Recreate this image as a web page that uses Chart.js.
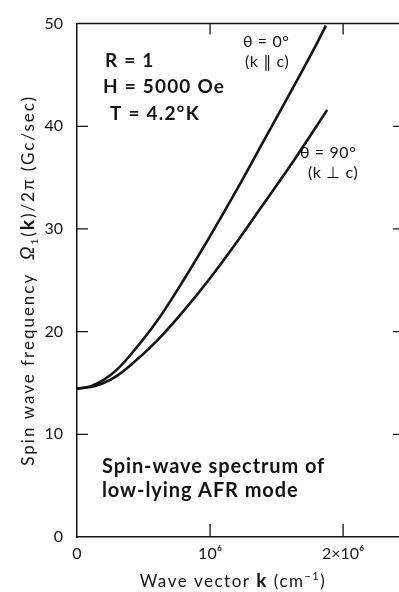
<!DOCTYPE html>
<html>
<head>
<meta charset="utf-8">
<script src="https://cdn.jsdelivr.net/npm/chart.js@4"></script>
<style>
  html, body { margin: 0; padding: 0; background: #fff; overflow: hidden; }
  #wrap { width: 410px; height: 592px; }
</style>
</head>
<body>
<div id="wrap"><canvas id="spin"></canvas></div>
<script>
// wave vector k in units of 10^6 cm^-1, frequency in Gc/sec
const kTheta0 = [0, 0.1, 0.2, 0.3, 0.4, 0.6, 0.8, 1.0, 1.2, 1.4, 1.6, 1.8, 1.87];
const freqTheta0 = [14.45, 14.67, 15.3, 16.3, 17.7, 21.0, 25.0, 29.3, 33.8, 38.5, 43.2, 48.0, 49.8];
const kTheta90 = [0, 0.1, 0.2, 0.3, 0.4, 0.6, 0.8, 1.0, 1.2, 1.4, 1.6, 1.8, 1.88];
const freqTheta90 = [14.45, 14.6, 15.0, 15.7, 16.7, 19.1, 22.0, 25.2, 28.7, 32.4, 36.1, 40.0, 41.6];

const xTicks = [0, 1, 2];
const xTickLabels = ["0", "10\u2076", "2\u00d710\u2076"];
const yTicks = [0, 10, 20, 30, 40, 50];

const FONT = "Lato, 'DejaVu Sans', sans-serif";
const INK = "#141414";

function toPoints(xs, ys) {
    return xs.map((x, i) => ({ x: x, y: ys[i] }));
}

// draw a line made of pieces with different fonts
function drawRuns(ctx, runs, x, y) {
    let cx = x;
    runs.forEach((r) => {
        ctx.font = r.font;
        ctx.fillText(r.text, cx, y + (r.dy || 0));
        cx += ctx.measureText(r.text).width;
    });
    return cx - x;
}
function runsWidth(ctx, runs) {
    let w = 0;
    runs.forEach((r) => {
        ctx.font = r.font;
        w += ctx.measureText(r.text).width;
    });
    return w;
}

const frame = {
    id: "frame",
    afterDraw(chart) {
        const ctx = chart.ctx;
        const { left, right, top, bottom } = chart.chartArea;
        const xs = chart.scales.x;
        const ys = chart.scales.y;
        ctx.save();
        ctx.strokeStyle = INK;
        ctx.lineWidth = 1.5;

        // top border
        ctx.beginPath();
        ctx.moveTo(left, top);
        ctx.lineTo(right, top);
        ctx.stroke();

        // inward ticks
        ctx.lineWidth = 1.3;
        ctx.beginPath();
        yTicks.slice(1, -1).forEach((v) => {
            const py = ys.getPixelForValue(v);
            ctx.moveTo(left, py);
            ctx.lineTo(left + 11, py);
            ctx.moveTo(right, py);
            ctx.lineTo(right - 10, py);
        });
        xTicks.slice(1).forEach((v) => {
            const px = xs.getPixelForValue(v);
            ctx.moveTo(px, bottom);
            ctx.lineTo(px, bottom - 13);
            ctx.moveTo(px, top);
            ctx.lineTo(px, top + 11);
        });
        ctx.stroke();

        ctx.fillStyle = INK;
        ctx.textBaseline = "alphabetic";
        ctx.textAlign = "left";

        // parameters
        ctx.font = "bold 19px " + FONT;
        ctx.letterSpacing = "1.2px";
        ctx.fillText("R = 1", 105, 67);
        ctx.fillText("H = 5000 Oe", 103, 93);
        ctx.fillText("T = 4.2\u00b0K", 110, 120);

        // curve labels
        ctx.font = "16px " + FONT;
        ctx.letterSpacing = "0.6px";
        ctx.fillText("\u03b8 = 0\u00b0", 243, 47);
        ctx.fillText("(k \u2225 c)", 245, 67);
        ctx.fillText("\u03b8 = 90\u00b0", 300, 158);
        ctx.fillText("(k \u22a5 c)", 308, 178);

        // caption
        ctx.font = "bold 20px " + FONT;
        ctx.letterSpacing = "0.9px";
        ctx.fillText("Spin-wave spectrum of", 102, 473);
        ctx.fillText("low-lying AFR mode", 102, 497);

        // x axis title
        const xRuns = [
            { text: "Wave vector ", font: "17px " + FONT },
            { text: "k", font: "bold 19px " + FONT },
            { text: " (cm", font: "17px " + FONT },
            { text: "\u22121", font: "11px " + FONT, dy: -7 },
            { text: ")", font: "17px " + FONT },
        ];
        ctx.letterSpacing = "1.5px";
        let w = runsWidth(ctx, xRuns);
        drawRuns(ctx, xRuns, 233 - w / 2, 587);

        // y axis title
        const yRuns = [
            { text: "Spin wave frequency  ", font: "17px " + FONT },
            { text: "\u03a9", font: "italic 19px " + FONT },
            { text: "1", font: "10px " + FONT, dy: 4 },
            { text: "(", font: "17px " + FONT },
            { text: "k", font: "bold 19px " + FONT },
            { text: ")/2\u03c0 (Gc/sec)", font: "17px " + FONT },
        ];
        ctx.letterSpacing = "2px";
        w = runsWidth(ctx, yRuns);
        ctx.translate(34, (top + bottom) / 2);
        ctx.rotate(-Math.PI / 2);
        drawRuns(ctx, yRuns, -w / 2, 0);
        ctx.restore();
    },
};

new Chart(document.getElementById("spin"), {
    type: "line",
    data: {
        datasets: [
            {
                label: "\u03b8 = 0\u00b0",
                data: toPoints(kTheta0, freqTheta0),
                borderColor: INK,
                borderWidth: 2.6,
                pointRadius: 0,
                cubicInterpolationMode: "monotone",
            },
            {
                label: "\u03b8 = 90\u00b0",
                data: toPoints(kTheta90, freqTheta90),
                borderColor: INK,
                borderWidth: 2.6,
                pointRadius: 0,
                cubicInterpolationMode: "monotone",
            },
        ],
    },
    options: {
        responsive: true,
        maintainAspectRatio: false,
        animation: false,
        layout: { padding: { top: 11, right: 7, left: 0, bottom: 0 } },
        plugins: {
            legend: { display: false },
            tooltip: { enabled: false },
        },
        scales: {
            x: {
                type: "linear",
                min: 0,
                max: 2.45,
                afterBuildTicks: (s) => {
                    s.ticks = xTicks.map((v) => ({ value: v }));
                },
                afterFit: (s) => {
                    s.height = 55;
                },
                grid: { drawOnChartArea: false, drawTicks: false },
                border: { color: INK, width: 1.5 },
                ticks: {
                    padding: 7,
                    color: INK,
                    font: { family: FONT, size: 16 },
                    maxRotation: 0,
                    callback: (v) => xTickLabels[xTicks.indexOf(v)],
                },
            },
            y: {
                min: 0,
                max: 50,
                afterBuildTicks: (s) => {
                    s.ticks = yTicks.map((v) => ({ value: v }));
                },
                afterFit: (s) => {
                    s.width = 77;
                },
                grid: { drawOnChartArea: false, drawTicks: false },
                border: { color: INK, width: 1.5 },
                ticks: {
                    padding: 14,
                    color: INK,
                    font: { family: FONT, size: 16 },
                },
            },
        },
    },
    plugins: [frame],
});
</script>
</body>
</html>
